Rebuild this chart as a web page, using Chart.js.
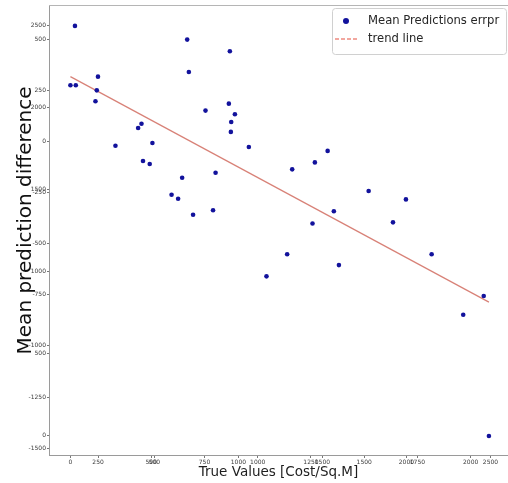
<!DOCTYPE html>
<html>
<head>
<meta charset="utf-8">
<script src="https://cdn.jsdelivr.net/npm/chart.js@4.4.1/dist/chart.umd.min.js"></script>
<style>
  html, body { margin: 0; padding: 0; background: #fff; }
  canvas { display: block; }
</style>
</head>
<body>
<canvas id="errChart" width="508" height="483"></canvas>
<script>
// true cost per sq.m and the mean prediction difference for each sample
const trueValues = [27, 695, 949, 164, 705, 0, 32, 157, 149, 804, 943, 979, 957, 955,
  423, 403, 268, 488, 1062, 432, 472, 665, 864, 602, 641, 730, 849, 1320, 1455, 1531,
  1568, 1441, 1290, 1167, 1598, 1775, 1997, 1920, 2150, 2460, 2338, 2491];
const meanDiff = [564, 497, 440, 316, 339, 274, 274, 249, 196, 150, 184, 132, 94, 46,
  86, 65, -22, -8, -28, -96, -111, -178, -154, -261, -281, -359, -337, -137, -103, -47,
  -342, -402, -552, -660, -605, -243, -284, -396, -552, -756, -848, -1440];

// trend line end points
const trendX = [0, 2491];
const trendY = [316, -786];

// tick values of the two overlaid axis pairs
const xTicks = [0, 500, 1000, 1500, 2000, 2500];
const xTicks2 = [250, 500, 750, 1000, 1250, 1500, 1750, 2000];
const yTicks = [500, 250, 0, -250, -500, -750, -1000, -1250, -1500];
const yTicks2 = [0, 500, 1000, 1500, 2000, 2500];

const points = trueValues.map((v, i) => ({ x: v, y: meanDiff[i] }));
const trend = trendX.map((v, i) => ({ x: v, y: trendY[i] }));

const tickFont = { family: 'DejaVu Sans', size: 6 };
const tickColor = '#3a3a3a';
const plainNumber = (v) => String(v);

function axisTicks(list) {
  return (scale) => { scale.ticks = list.map(v => ({ value: v })); };
}
// fixed axis box size, no extra room for overhanging labels
function fixedSize(prop, size) {
  return (scale) => {
    scale[prop] = size;
    scale.paddingLeft = scale.paddingRight = 0;
    scale.paddingTop = scale.paddingBottom = 0;
  };
}

// top frame line
const frameTop = {
  id: 'frameTop',
  afterDraw(chart) {
    const ctx = chart.ctx, a = chart.chartArea;
    ctx.save();
    ctx.strokeStyle = '#b5b5b5';
    ctx.lineWidth = 1;
    ctx.beginPath();
    ctx.moveTo(a.left, Math.round(a.top) + 0.5);
    ctx.lineTo(a.right, Math.round(a.top) + 0.5);
    ctx.stroke();
    ctx.restore();
  }
};

// boxed legend in the upper right corner
const legendBox = {
  id: 'legendBox',
  afterDraw(chart) {
    const ctx = chart.ctx, a = chart.chartArea;
    const ds = chart.data.datasets;
    const bx = a.right - 176, by = a.top + 3, bw = 174, bh = 46;
    ctx.save();
    ctx.fillStyle = 'rgba(255,255,255,0.9)';
    ctx.strokeStyle = '#d0d0d0';
    ctx.lineWidth = 1;
    ctx.beginPath();
    ctx.roundRect(bx + 0.5, by + 0.5, bw, bh, 3);
    ctx.fill();
    ctx.stroke();

    ctx.font = '11.6px "DejaVu Sans"';
    ctx.textBaseline = 'middle';
    ctx.textAlign = 'left';

    // scatter marker
    const r1 = by + 13;
    ctx.beginPath();
    ctx.fillStyle = ds[0].backgroundColor;
    ctx.arc(bx + 14, r1, 3, 0, Math.PI * 2);
    ctx.fill();
    ctx.fillStyle = '#262626';
    ctx.fillText(ds[0].label, bx + 36, r1);

    // trend line marker
    const r2 = by + 31;
    ctx.strokeStyle = '#ee8a80';
    ctx.lineWidth = 1.4;
    ctx.setLineDash([4, 2]);
    ctx.beginPath();
    ctx.moveTo(bx + 3, r2);
    ctx.lineTo(bx + 26, r2);
    ctx.stroke();
    ctx.setLineDash([]);
    ctx.fillText(ds[1].label, bx + 36, r2);
    ctx.restore();
  }
};

new Chart(document.getElementById('errChart'), {
  type: 'scatter',
  data: {
    datasets: [{
      label: 'Mean Predictions errpr',
      data: points,
      backgroundColor: '#12129c',
      borderColor: '#12129c',
      borderWidth: 0,
      pointRadius: 2.3
    }, {
      type: 'line',
      label: 'trend line',
      data: trend,
      borderColor: 'rgba(214,122,112,0.95)',
      borderWidth: 1.2,
      pointRadius: 0,
      fill: false
    }]
  },
  plugins: [frameTop, legendBox],
  options: {
    responsive: false,
    animation: false,
    events: [],
    layout: { autoPadding: false, padding: { top: 5, right: 0, left: 0, bottom: 0 } },
    plugins: { legend: { display: false }, tooltip: { enabled: false } },
    scales: {
      x: {
        type: 'linear',
        position: 'bottom',
        weight: 1,
        min: -127.5,
        max: 2604.5,
        afterBuildTicks: axisTicks(xTicks),
        afterFit: fixedSize('height', 28),
        grid: { drawOnChartArea: false, tickLength: 3, color: '#777' },
        border: { color: '#9a9a9a' },
        ticks: { font: tickFont, color: tickColor, padding: 1, maxRotation: 0, autoSkip: false, callback: plainNumber },
        title: {
          display: true,
          text: 'True Values [Cost/Sq.M]',
          color: '#1e1e1e',
          font: { family: 'DejaVu Sans', size: 13.5 },
          padding: { top: 0, bottom: 2 }
        }
      },
      // second x axis drawn on top of the first one
      x2: {
        type: 'linear',
        position: 'bottom',
        weight: 0,
        min: 19.7,
        max: 2175.3,
        afterBuildTicks: axisTicks(xTicks2),
        afterFit: fixedSize('height', 0),
        grid: { drawOnChartArea: false, tickLength: 3, color: '#777' },
        border: { display: false },
        ticks: { font: tickFont, color: tickColor, mirror: true, padding: -11.2, maxRotation: 0, autoSkip: false, callback: plainNumber }
      },
      y: {
        type: 'linear',
        position: 'left',
        weight: 1,
        min: -1533.2,
        max: 666.2,
        afterBuildTicks: axisTicks(yTicks),
        afterFit: fixedSize('width', 49),
        grid: { drawOnChartArea: false, tickLength: 2, color: '#777' },
        border: { color: '#9a9a9a' },
        ticks: { font: tickFont, color: tickColor, padding: 1, autoSkip: false, callback: plainNumber },
        title: {
          display: true,
          text: '   Mean prediction difference',
          color: '#111',
          font: { family: 'DejaVu Sans', size: 20 },
          padding: { top: 14, bottom: 0 }
        }
      },
      // second y axis drawn on top of the first one
      y2: {
        type: 'linear',
        position: 'left',
        weight: 0,
        min: -122,
        max: 2623.9,
        afterBuildTicks: axisTicks(yTicks2),
        afterFit: fixedSize('width', 0),
        grid: { drawOnChartArea: false, tickLength: 2, color: '#777' },
        border: { display: false },
        ticks: { font: tickFont, color: tickColor, mirror: true, crossAlign: 'far', padding: -18.3, autoSkip: false, callback: plainNumber }
      }
    }
  }
});
</script>
</body>
</html>
